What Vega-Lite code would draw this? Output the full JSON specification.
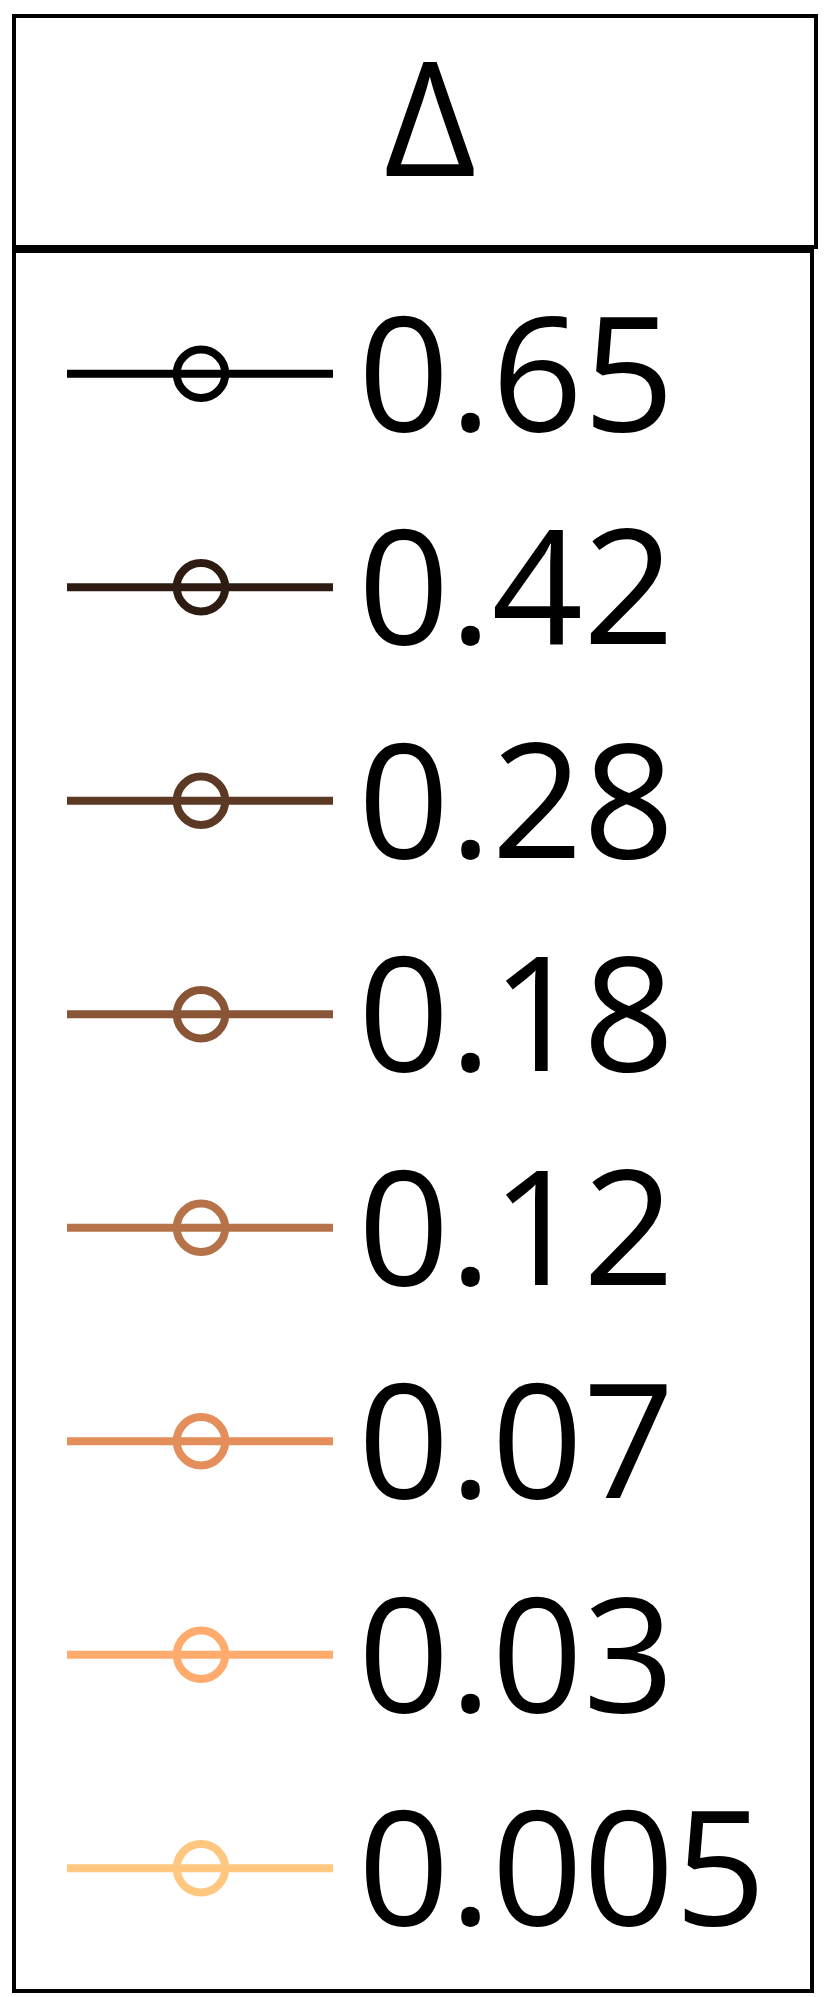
{
  "$schema": "https://vega.github.io/schema/vega-lite/v6.json",
  "background": "white",
  "padding": {"left": 12, "top": 14, "right": 0, "bottom": 0},
  "spacing": 0,
  "config": {"font": "Open Sans", "view": {"stroke": "black", "strokeWidth": 4}},
  "datasets": {
    "entries": [
      {"label": "0.65", "delta": 0.65},
      {"label": "0.42", "delta": 0.42},
      {"label": "0.28", "delta": 0.28},
      {"label": "0.18", "delta": 0.18},
      {"label": "0.12", "delta": 0.12},
      {"label": "0.07", "delta": 0.07},
      {"label": "0.03", "delta": 0.03},
      {"label": "0.005", "delta": 0.005}
    ]
  },
  "vconcat": [
    {
      "width": 802,
      "height": 231,
      "data": {"values": [{"title": "Δ"}]},
      "mark": {"type": "text", "font": "Open Sans", "fontSize": 160, "align": "center", "baseline": "alphabetic", "color": "black"},
      "encoding": {
        "x": {"value": 416},
        "y": {"value": 160},
        "text": {"field": "title"}
      }
    },
    {
      "width": 798,
      "height": 1740,
      "data": {"name": "entries"},
      "encoding": {
        "y": {"field": "label", "type": "ordinal", "sort": null, "scale": {"type": "point", "padding": 0.575}, "axis": null}
      },
      "layer": [
        {
          "mark": {"type": "rule", "strokeWidth": 8},
          "encoding": {
            "x": {"value": 53},
            "x2": {"value": 319},
            "color": {"field": "label", "type": "nominal", "sort": null, "legend": null,
              "scale": {"domain": ["0.65","0.42","0.28","0.18","0.12","0.07","0.03","0.005"],
                "range": ["#000000","#2e1c12","#5b3924","#895536","#b67248","#e48e5b","#ffab6d","#ffc77f"]}}
          }
        },
        {
          "mark": {"type": "point", "shape": "circle", "filled": false, "fill": null, "strokeWidth": 8, "size": 2352, "opacity": 1},
          "encoding": {
            "x": {"value": 187},
            "color": {"field": "label", "type": "nominal", "sort": null, "legend": null,
              "scale": {"domain": ["0.65","0.42","0.28","0.18","0.12","0.07","0.03","0.005"],
                "range": ["#000000","#2e1c12","#5b3924","#895536","#b67248","#e48e5b","#ffab6d","#ffc77f"]}}
          }
        },
        {
          "mark": {"type": "text", "font": "Open Sans", "fontSize": 160, "align": "left", "baseline": "middle", "dy": 9, "color": "black"},
          "encoding": {
            "x": {"value": 344},
            "text": {"field": "label"}
          }
        }
      ]
    }
  ]
}
